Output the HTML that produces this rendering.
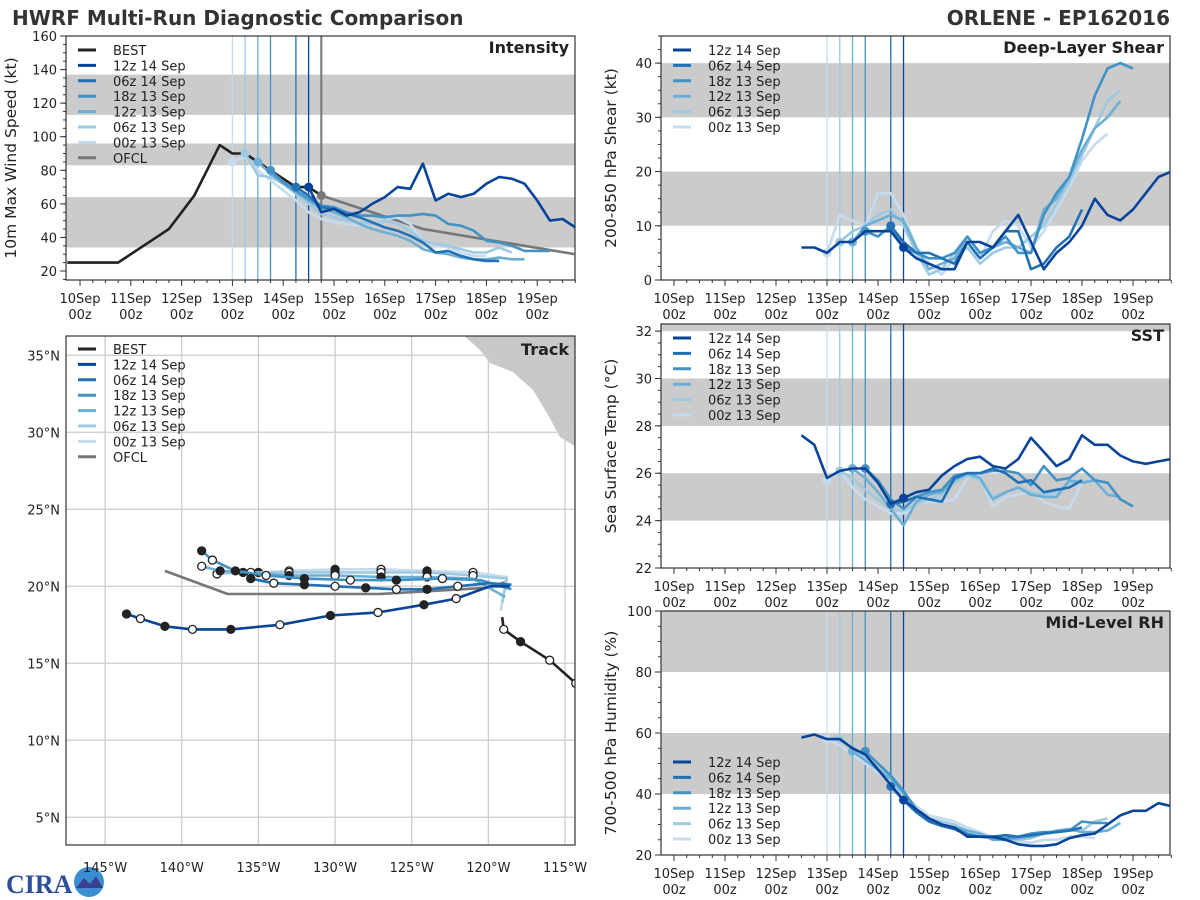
<!DOCTYPE html>
<html><head><meta charset="utf-8"><title>HWRF Multi-Run Diagnostic Comparison</title>
<style>html,body{margin:0;padding:0;background:#fff;}svg{display:block;font-family:"DejaVu Sans","Liberation Sans",sans-serif;}</style>
</head><body>
<svg id="fig" width="1200" height="900" viewBox="0 0 1200 900">
<text x="12" y="25" font-size="20" font-weight="bold" fill="#333">HWRF Multi-Run Diagnostic Comparison</text>
<text x="1170" y="25" font-size="20" font-weight="bold" fill="#333" text-anchor="end">ORLENE - EP162016</text>
<g>
<text x="6" y="893" font-size="26" font-weight="bold" fill="#2d4e9a" font-family="Liberation Serif, serif">CIRA</text>
<circle cx="89" cy="882" r="15" fill="#3a8fd0"/>
<path d="M76 888 L84 878 L90 884 L96 876 L103 888 Z" fill="#3b3f8f"/>
</g>
</svg>
<script>
const NS='http://www.w3.org/2000/svg';
const svg=document.getElementById('fig');
function el(tag,attrs,parent){const e=document.createElementNS(NS,tag);for(const k in attrs)e.setAttribute(k,attrs[k]);(parent||svg).appendChild(e);return e;}
const runColors=['#08459a','#2171b5','#4292c6','#6baed6','#9ecae1','#c6dbef'];
const runNames=['12z 14 Sep','06z 14 Sep','18z 13 Sep','12z 13 Sep','06z 13 Sep','00z 13 Sep'];
const runInit=[4.5,4.25,3.75,3.5,3.25,3.0];
const dayLabels=['10Sep','11Sep','12Sep','13Sep','14Sep','15Sep','16Sep','17Sep','18Sep','19Sep'];

// ---- Intensity data (kt), 6-hourly from each start day ----
const bestStart=-0.25;
const bestInt=[25,25,25,25,25,30,35,40,45,55,65,80,95,90,90,85,80,75,70,70,65];
const ofclDays=[4.75,6.75,9.75];
const ofclInt=[65,45,30];
const int12z14=[70,55,57,53,55,60,64,70,69,84,62,66,64,66,72,76,75,72,62,50,51,46];
const int06z14=[70,65,58,57,54,52,49,46,44,41,37,31,32,29,27,26,26];
const int18z13=[80,73,68,63,59,58,55,53,53,52,53,53,54,53,48,47,44,38,37,35,32,32,32];
const int12z13=[85,78,72,67,62,57,55,52,48,45,43,41,38,33,31,30,28,27,27,28,27,27];
const int06z13=[90,77,76,72,66,60,54,52,50,49,48,50,48,44,38,36,35,33,31,31,34,31];
const int00z13=[85,88,80,74,68,62,55,51,49,48,47,48,51,52,48,38,35,34,31,29,29];
// ---- Shear (kt) ----
const shrStart12z14=2.5;
const shr12z14=[6,6,5,7,7,9,9,9,6,4,3,2,2,7,7,6,9,12,7,2,5,7,10,15,12,11,13,16,19,20];
const shr06z14=[10,7,5,5,4,3,7,4,6,9,9,2,3,6,8,13];
const shr18z13=[9,8,10,6,5,4,4,5,8,5,6,8,5,5,12,16,19,26,34,39,40,39];
const shr12z13=[7,10,11,12,11,6,2,3,4,8,5,6,7,6,5,13,15,19,24,28,30,33];
const shr06z13=[7,9,10,12,13,10,5,1,2,5,6,3,5,6,6,8,10,14,18,23,28,33,35];
const shr00z13=[5,12,11,10,16,16,12,6,3,1,4,6,4,9,11,10,6,9,13,17,22,25,27];
// ---- SST (C) ----
const sst12z14=[27.6,27.2,25.8,26.1,26.2,26.2,25.6,24.7,24.95,25.2,25.3,25.9,26.3,26.6,26.7,26.3,26.2,26.6,27.5,26.9,26.3,26.6,27.6,27.2,27.2,26.75,26.5,26.4,26.5,26.6];
const sst06z14=[24.7,24.8,25.0,24.9,24.8,25.8,26.0,26.0,26.2,26.0,25.6,25.7,25.2,25.3,25.4,25.7];
const sst18z13=[26.2,25.7,24.9,24.5,25.0,25.2,25.3,25.9,26.0,26.0,26.1,26.1,26.0,25.5,26.3,25.7,25.8,26.2,25.7,25.6,24.9,24.6];
const sst12z13=[26.2,25.8,25.2,24.5,23.8,24.8,25.1,25.2,25.7,26.0,25.8,24.9,25.2,25.4,25.1,25.0,25.0,25.7,25.6,25.7,25.1,25.0];
const sst06z13=[26.1,25.8,25.3,24.9,24.5,24.4,24.7,24.9,25.1,25.6,25.9,25.7,25.0,25.2,25.4,25.2,25.1,25.2,25.6,25.7];
const sst00z13=[25.7,26.1,25.4,24.9,24.6,24.3,24.3,24.7,24.8,24.8,24.9,25.8,25.9,24.6,25.0,25.1,25.2,24.8,24.6,24.5,25.6,25.7];
// ---- RH (%) ----
const rh12z14=[58.5,59.5,58,58,55,53,48,43,38,35,32,30,29,26,26,26,25,23.5,23,23,23.5,25.5,26.5,27,30,33,34.5,34.5,37,36];
const rh06z14=[42.5,38,34,31,29.5,28.5,26.5,26,26,26.5,26,26.5,27,27.5,28,29];
const rh18z13=[54,50,46,41,35,32,30,29,27,26,25.5,25.5,26,27,27.5,27.5,28,31,30.5,30.5];
const rh12z13=[54,51,48,45,40,35,32,30,29,28,27,25,25,25.5,26,27,28,28.5,27.5,27.5,28,30.5];
const rh06z13=[58,55,52,49,46,41,35,32,31,30,28,27,25,25,25,25.5,27,27.5,28,28,31,32];
const rh00z13=[58,56,53,50,47,44,40,36,33,32,31,29,27.5,26,25,24.5,24,25,25,26,26,25.5];
// ---- Track (lon, lat) ----
const bestLon=[-114.3,-116.0,-117.9,-119.0,-119.1];
const bestLat=[13.7,15.2,16.4,17.2,18.0];
const ofclLon=[-118.8,-120.1,-127.1,-137.0,-141.1];
const ofclLat=[20.3,19.9,19.5,19.5,21.0];
const trkLon12z14=[-118.6,-119.9,-122.1,-124.2,-127.2,-130.3,-133.6,-136.8,-139.3,-141.1,-142.7,-143.6];
const trkLat12z14=[20.0,20.0,19.2,18.8,18.3,18.1,17.5,17.2,17.2,17.4,17.9,18.2];
const trkLon06z14=[-118.5,-120.0,-122.0,-124.0,-126.0,-128.0,-130.0,-132.0,-134.0,-135.5];
const trkLat06z14=[20.1,20.2,20.0,19.8,19.8,19.9,20.0,20.1,20.2,20.5];
const trkLon18z13=[-118.5,-120.5,-123.0,-126.0,-129.0,-132.0,-134.5,-136.5,-138.0,-138.7];
const trkLat18z13=[19.8,20.4,20.5,20.4,20.4,20.5,20.7,21.0,21.7,22.3];
const trkLon12z13=[-118.9,-121.0,-124.0,-127.0,-130.0,-133.0,-135.5,-137.5,-138.7];
const trkLat12z13=[19.3,20.5,20.6,20.6,20.7,20.7,20.9,21.0,21.3];
const trkLon06z13=[-119.1,-118.8,-121.0,-124.0,-127.0,-130.0,-133.0,-136.0,-137.7];
const trkLat06z13=[18.9,20.5,20.7,20.9,20.9,20.9,20.9,20.9,20.8];
const trkLon00z13=[-119.2,-118.8,-121.0,-124.0,-127.0,-130.0,-133.0,-135.0];
const trkLat00z13=[18.4,20.6,20.9,21.0,21.1,21.1,21.0,20.9];

function panel(o){
  const g=el('g',{});
  
  
  const X=d=>o.x0+(d-o.dmin)/(o.dmax-o.dmin)*(o.x1-o.x0);
  const Y=v=>o.y1-(v-o.vmin)/(o.vmax-o.vmin)*(o.y1-o.y0);
  o.bands.forEach(b=>{const r=el('rect',{x:o.x0,y:Y(Math.min(b[1],o.vmax)),width:o.x1-o.x0,height:Y(b[0])-Y(Math.min(b[1],o.vmax)),fill:'#cbcbcb'},g);
    });
  for(let i=5;i>=0;i--){const l=el('line',{x1:X(runInit[i]),x2:X(runInit[i]),y1:o.y0,y2:o.y1,stroke:runColors[i],'stroke-width':1.3},g);
    }
  if(o.ofclLine){const l=el('line',{x1:X(4.75),x2:X(4.75),y1:o.y0,y2:o.y1,stroke:'#777','stroke-width':2},g);
    }
  const fr=el('rect',{x:o.x0,y:o.y0,width:o.x1-o.x0,height:o.y1-o.y0,fill:'none',stroke:'#333','stroke-width':1.2},g);
  
  for(let v=o.yt0;v<=o.vmax+1e-6;v+=o.ystep){const y=Y(v);
    el('line',{x1:o.x0-6,x2:o.x0,y1:y,y2:y,stroke:'#333'},g);
    const t=el('text',{x:o.x0-9,y:y+5,'font-size':13,'text-anchor':'end',fill:'#222'},g);t.textContent=v;
    }
  for(let v=o.yt0-o.ystep;v<=o.vmax;v+=o.yminor){if(v<o.vmin)continue;el('line',{x1:o.x0-3,x2:o.x0,y1:Y(v),y2:Y(v),stroke:'#333'},g);}
  for(let d=0;d<10;d++){const x=X(d);el('line',{x1:x,x2:x,y1:o.y1,y2:o.y1+6,stroke:'#333'},g);
    const t1=el('text',{x:x,y:o.y1+23,'font-size':13,'text-anchor':'middle',fill:'#222'},g);t1.textContent=dayLabels[d];
    
    const t2=el('text',{x:x,y:o.y1+39,'font-size':13,'text-anchor':'middle',fill:'#222'},g);t2.textContent='00z';
    }
  for(let d=0;d<=9.75;d+=0.25){if(d%1===0)continue;const x=X(d);el('line',{x1:x,x2:x,y1:o.y1,y2:o.y1+3,stroke:'#333'},g);}
  const cy=(o.y0+o.y1)/2;const yl=el('text',{x:o.ylx,y:cy,'font-size':15.5,'text-anchor':'middle',fill:'#222',transform:`rotate(-90 ${o.ylx} ${cy})`},g);
  yl.textContent=o.ylabel;
  const tt=el('text',{x:o.x1-6,y:o.y0+17,'font-size':16,'font-weight':'bold','text-anchor':'end',fill:'#222'},g);
  tt.textContent=o.title;
  const clip='c'+o.name;const cp=el('clipPath',{id:clip},g);el('rect',{x:o.x0,y:o.y0,width:o.x1-o.x0,height:o.y1-o.y0},cp);
  const sg=el('g',{'clip-path':`url(#${clip})`},g);
  function line(start,vals,color,w,name){const p=vals.map((v,i)=>X(start+0.25*i).toFixed(1)+','+Y(v).toFixed(1)).join(' ');
    const pl=el('polyline',{points:p,fill:'none',stroke:color,'stroke-width':w,'stroke-linejoin':'round'},sg);
    return pl;}
  if(o.best){line(bestStart,bestInt,'#222',2.6,'best-intensity-line');}
  if(o.ofcl){const p=ofclDays.map((d,i)=>X(d)+','+Y(ofclInt[i])).join(' ');
    const pl=el('polyline',{points:p,fill:'none',stroke:'#777','stroke-width':2.6},sg);}
  for(let i=5;i>=0;i--){const s=o.series[i];const st=o.starts[i];
    line(st,s,runColors[i],2.6,'series-'+runNames[i].replace(/ /g,'-').toLowerCase());
    const mi=Math.round((runInit[i]-st)/0.25);
    if(mi>=0&&mi<s.length){const c=el('circle',{cx:X(runInit[i]),cy:Y(s[mi]),r:4.5,fill:runColors[i]},sg);
      }}
  if(o.ofcl){const c=el('circle',{cx:X(4.75),cy:Y(65),r:4.5,fill:'#777'},sg);}
  const items=[];if(o.best)items.push(['BEST','#222']);runNames.forEach((n,i)=>items.push([n,runColors[i]]));if(o.ofcl)items.push(['OFCL','#777']);
  items.forEach((it,k)=>{const y=o.legY+k*15.4;
    const lg=el('g',{},g);
    el('line',{x1:o.x0+12,x2:o.x0+30,y1:y,y2:y,stroke:it[1],'stroke-width':3},lg);
    const t=el('text',{x:o.x0+47,y:y+5,'font-size':13,fill:'#222'},lg);t.textContent=it[0];});
}
const L={x0:66,x1:575,dmin:-0.276,dmax:9.744};
const R={x0:661,x1:1170,dmin:-0.255,dmax:9.725};
panel(Object.assign({},L,{name:'intensity-panel',y0:36,y1:280,vmin:14.64,vmax:160,yt0:20,ystep:20,yminor:5,bands:[[34,64],[83,96],[113,137]],
  ylabel:'10m Max Wind Speed (kt)',ylx:16,title:'Intensity',best:true,ofcl:true,ofclLine:true,legY:50,
  series:[int12z14,int06z14,int18z13,int12z13,int06z13,int00z13],starts:runInit}));
panel(Object.assign({},R,{name:'shear-panel',y0:36,y1:280,vmin:0,vmax:45,yt0:0,ystep:10,yminor:2.5,bands:[[10,20],[30,40]],
  ylabel:'200-850 hPa Shear (kt)',ylx:616,title:'Deep-Layer Shear',legY:50,
  series:[shr12z14,shr06z14,shr18z13,shr12z13,shr06z13,shr00z13],starts:[shrStart12z14,4.25,3.75,3.5,3.25,3.0]}));
panel(Object.assign({},R,{name:'sst-panel',y0:324,y1:568,vmin:22,vmax:32.3,yt0:22,ystep:2,yminor:0.5,bands:[[24,26],[28,30],[32,33]],
  ylabel:'Sea Surface Temp (°C)',ylx:616,title:'SST',legY:338,
  series:[sst12z14,sst06z14,sst18z13,sst12z13,sst06z13,sst00z13],starts:[2.5,4.25,3.75,3.5,3.25,3.0]}));
panel(Object.assign({},R,{name:'rh-panel',y0:611,y1:855,vmin:20,vmax:100,yt0:20,ystep:20,yminor:5,bands:[[40,60],[80,100]],
  ylabel:'700-500 hPa Humidity (%)',ylx:616,title:'Mid-Level RH',legY:762,
  series:[rh12z14,rh06z14,rh18z13,rh12z13,rh06z13,rh00z13],starts:[2.5,4.25,3.75,3.5,3.25,3.0]}));

(function(){
  const x0=66,x1=575,y0=336,y1=845,lon0=-147.55,lon1=-114.35,lat0=3.2,lat1=36.25;
  const X=l=>x0+(l-lon0)/(lon1-lon0)*(x1-x0);const Y=l=>y1-(l-lat0)/(lat1-lat0)*(y1-y0);
  const g=el('g',{});
  const cp=el('clipPath',{id:'ctrk'},g);el('rect',{x:x0,y:y0,width:x1-x0,height:y1-y0},cp);
  const sg=el('g',{'clip-path':'url(#ctrk)'},g);
  const land=el('polygon',{points:'463,335 480,350 490,363 513,372 533,390 547,413 560,437 573,445 576,446 576,335',fill:'#c8c8c8'},sg);
  
  for(let lo=-145;lo<=-115;lo+=5){el('line',{x1:X(lo),x2:X(lo),y1:y0,y2:y1,stroke:'#ccc','stroke-width':1.3},sg);
    const t=el('text',{x:X(lo),y:y1+27,'font-size':13,'text-anchor':'middle',fill:'#222'},g);t.textContent=(-lo)+'°W';
    }
  for(let la=5;la<=35;la+=5){el('line',{x1:x0,x2:x1,y1:Y(la),y2:Y(la),stroke:'#ccc','stroke-width':1.3},sg);
    const t=el('text',{x:x0-6,y:Y(la)+5,'font-size':13,'text-anchor':'end',fill:'#222'},g);t.textContent=la+'°N';
    }
  function trk(lons,lats,color,name,dots){const p=lons.map((l,i)=>X(l).toFixed(1)+','+Y(lats[i]).toFixed(1)).join(' ');
    const pl=el('polyline',{points:p,fill:'none',stroke:color,'stroke-width':2.6,'stroke-linejoin':'round'},sg);
    
    if(dots)lons.forEach((l,i)=>{if(i<2)return;const c=el('circle',{cx:X(l),cy:Y(lats[i]),r:4,fill:i%2?'#222':'#fff',stroke:'#222','stroke-width':1.3},sg);
      });}
  trk(bestLon,bestLat,'#222','best-track',false);
  [[0,'#fff'],[2,'#222'],[1,'#fff'],[3,'#fff']].forEach(p=>{const c=el('circle',{cx:X(bestLon[p[0]]),cy:Y(bestLat[p[0]]),r:4,fill:p[1],stroke:'#222','stroke-width':1.3},sg);
    });
  trk(ofclLon,ofclLat,'#777','ofcl-track',false);
  const T=[[trkLon00z13,trkLat00z13],[trkLon06z13,trkLat06z13],[trkLon12z13,trkLat12z13],[trkLon18z13,trkLat18z13],[trkLon06z14,trkLat06z14],[trkLon12z14,trkLat12z14]];
  T.forEach((t,k)=>{const i=5-k;trk(t[0],t[1],runColors[i],'track-'+runNames[i].replace(/ /g,'-').toLowerCase(),true);});
  const fr=el('rect',{x:x0,y:y0,width:x1-x0,height:y1-y0,fill:'none',stroke:'#333','stroke-width':1.2},g);
  
  const tt=el('text',{x:x1-6,y:y0+19,'font-size':16,'font-weight':'bold','text-anchor':'end',fill:'#222'},g);tt.textContent='Track';
  
  const items=[['BEST','#222']].concat(runNames.map((n,i)=>[n,runColors[i]])).concat([['OFCL','#777']]);
  items.forEach((it,k)=>{const y=349+k*15.4;const lg=el('g',{},g);
    el('line',{x1:x0+12,x2:x0+30,y1:y,y2:y,stroke:it[1],'stroke-width':3},lg);
    const t=el('text',{x:x0+47,y:y+5,'font-size':13,fill:'#222'},lg);t.textContent=it[0];});
})();
</script>
</body></html>
